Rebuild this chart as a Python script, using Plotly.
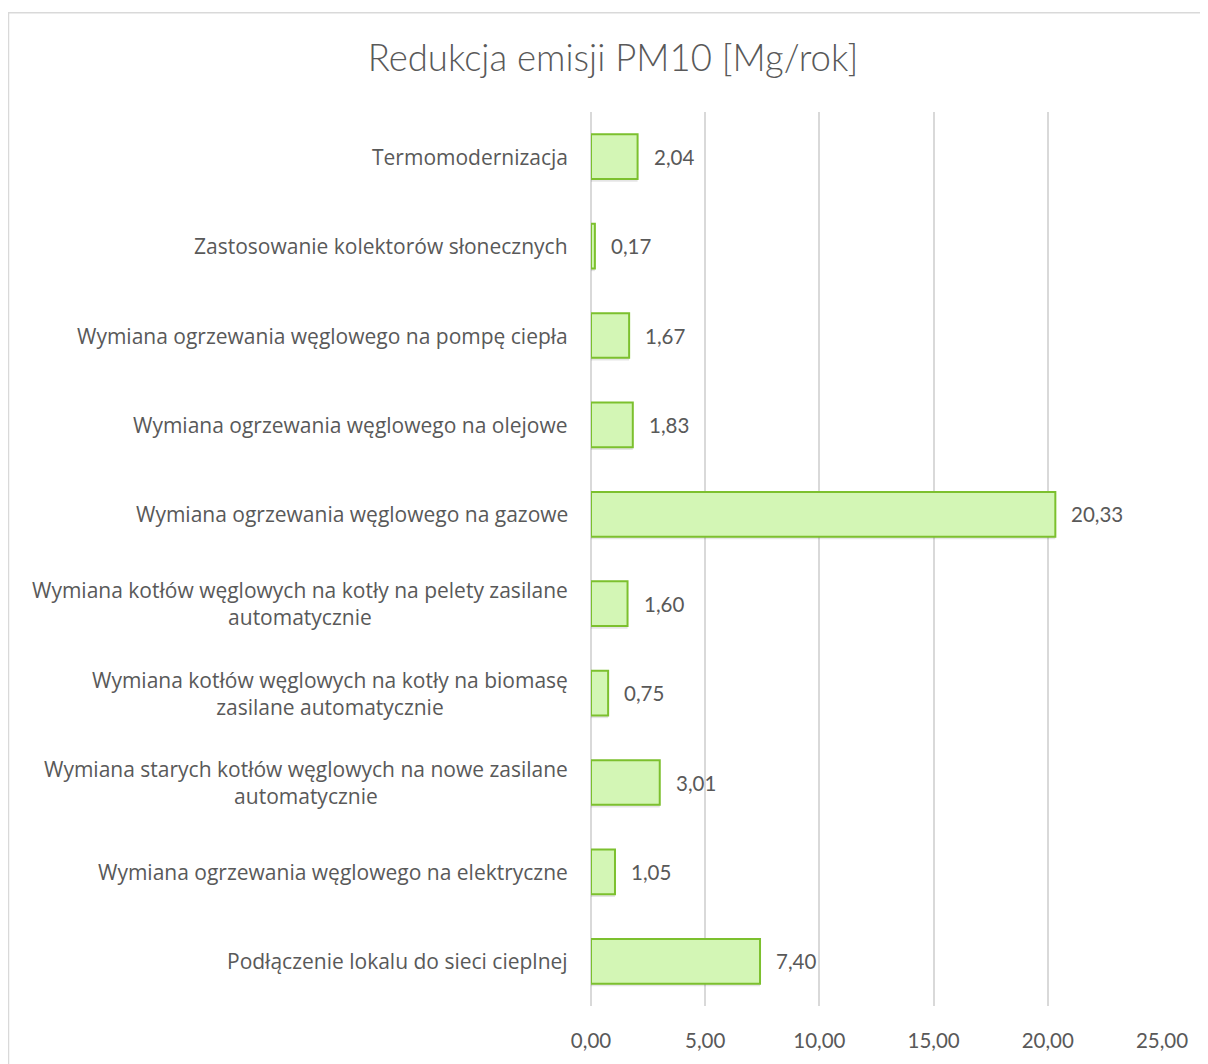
import plotly.graph_objects as go

title = "Redukcja emisji PM10 [Mg/rok]"
categories = [
    "Termomodernizacja",
    "Zastosowanie kolektorów słonecznych",
    "Wymiana ogrzewania węglowego na pompę ciepła",
    "Wymiana ogrzewania węglowego na olejowe",
    "Wymiana ogrzewania węglowego na gazowe",
    "Wymiana kotłów węglowych na kotły na pelety zasilane<br>automatycznie",
    "Wymiana kotłów węglowych na kotły na biomasę<br>zasilane automatycznie",
    "Wymiana starych kotłów węglowych na nowe zasilane<br>automatycznie",
    "Wymiana ogrzewania węglowego na elektryczne",
    "Podłączenie lokalu do sieci cieplnej",
]
values = [2.04, 0.17, 1.67, 1.83, 20.33, 1.60, 0.75, 3.01, 1.05, 7.40]
tick_values = [0, 5, 10, 15, 20, 25]

OFF = 8  # page body margin
W, H = 1208 - OFF, 1064 - OFF
L, R, T, B = 591 - OFF, 1162 - OFF, 112 - OFF, 1009 - OFF
pw, ph = R - L, B - T

def px_x(p):
    return (p - OFF - L) / pw

def px_y(p):
    return (B - (p - OFF)) / ph

grey = "#595959"
fig = go.Figure()

# soft shadow
fig.add_trace(go.Bar(
    y=list(range(len(categories))), x=values, orientation="h",
    width=0.5, offset=-0.22,
    marker=dict(color="rgba(0,0,0,0.10)", line=dict(width=0)),
    hoverinfo="skip", showlegend=False,
))
fig.add_trace(go.Bar(
    y=list(range(len(categories))), x=values, orientation="h",
    width=0.5, offset=-0.25,
    marker=dict(color="#d3f6b5", line=dict(color="#7cc02e", width=2)),
    textposition="none",
    showlegend=False,
))

# data labels
for i, v in enumerate(values):
    fig.add_annotation(
        x=v, y=i, xref="x", yref="y", text=f"{v:.2f}".replace(".", ","),
        showarrow=False, xanchor="left", yanchor="middle", xshift=14,
        font=dict(family="Lato", size=20.5, color=grey),
    )

# category labels
for i, c in enumerate(categories):
    fig.add_annotation(
        x=0, y=i, xref="paper", yref="y", text=c, showarrow=False,
        xanchor="right", yanchor="middle", align="center", xshift=-21,
        font=dict(family="Open Sans", size=21, color=grey),
    )

# outer frame
fig.add_shape(type="rect", xref="paper", yref="paper",
              x0=px_x(8.5), x1=px_x(1207), y0=px_y(1085), y1=px_y(12.5),
              line=dict(color="#d9d9d9", width=1.5), fillcolor="rgba(0,0,0,0)",
              layer="below")

fig.update_layout(
    width=W, height=H,
    margin=dict(l=L, r=W - R, t=T, b=H - B, pad=0),
    paper_bgcolor="white", plot_bgcolor="white",
    barmode="overlay",
    separators=", ",
    title=dict(text=title, x=(613 - OFF) / W, xref="container", xanchor="center",
               y=1 - (58 - OFF) / H, yref="container", yanchor="middle",
               font=dict(family="Lato", size=36.5, color=grey, weight=300)),
    xaxis=dict(range=[0, 25], tickvals=tick_values, tickformat=".2f",
               showgrid=True, gridcolor="#d9d9d9", gridwidth=1.5,
               zeroline=True, zerolinecolor="#d9d9d9", zerolinewidth=1.5,
               showline=False, ticks="", ticklabelstandoff=20,
               tickfont=dict(family="Lato", size=20.5, color=grey), fixedrange=True),
    yaxis=dict(range=[len(categories) - 0.5, -0.5], showticklabels=False,
               showgrid=False, zeroline=False, showline=False, ticks=""),
)

fig.write_html("out.html")
